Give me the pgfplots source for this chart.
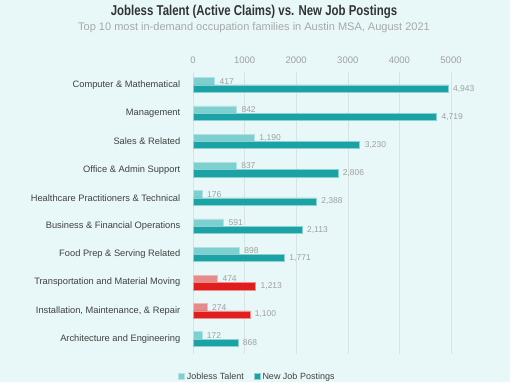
\documentclass[border=0pt]{standalone}
\usepackage{pgfplots}
\pgfplotsset{compat=1.18}
\usepackage{fontspec}
\setmainfont{Liberation Sans}
\newfontfamily\titlefont[FakeStretch=0.8]{Liberation Sans}
\definecolor{bg}{HTML}{E8F8F8}
\definecolor{titlec}{HTML}{333333}
\definecolor{subc}{HTML}{A8A8A8}
\definecolor{tickc}{HTML}{A0A0A0}
\definecolor{labc}{HTML}{404040}
\definecolor{valc}{HTML}{A0A0A0}
\definecolor{gridc}{HTML}{D8E4E4}
\definecolor{tealL}{HTML}{7ECFCF}
\definecolor{tealD}{HTML}{1BA2A4}
\definecolor{redL}{HTML}{E68A8A}
\definecolor{redD}{HTML}{E01E1E}
\begin{document}
\begin{tikzpicture}[x=1pt,y=1pt]
\fill[bg] (0,0) rectangle (510,382);
\path[use as bounding box] (0,0) rectangle (510,382);
\node[font=\titlefont\bfseries\fontsize{14.3}{16}\selectfont, text=titlec] at (254,370) {Jobless Talent (Active Claims) vs. New Job Postings};
\node[font=\fontsize{11}{13}\selectfont, text=subc] at (254,354) {Top 10 most in-demand occupation families in Austin MSA, August 2021};
\begin{axis}[
  at={(193pt,28pt)}, anchor=south west,
  width=258pt, height=282pt, scale only axis,
  xbar, bar width=7.3pt,
  xmin=0, xmax=5000, ymin=-0.53, ymax=9.46,
  ytick={0,...,9},
  yticklabels={Architecture and Engineering, {Installation, Maintenance, \& Repair}, Transportation and Material Moving, Food Prep \& Serving Related, Business \& Financial Operations, Healthcare Practitioners \& Technical, Office \& Admin Support, Sales \& Related, Management, Computer \& Mathematical},
  xtick={0,1000,...,5000},
  xticklabel pos=upper,
  scaled x ticks=false,
  axis line style={draw=none},
  major tick style={draw=none},
  xmajorgrids, grid style={gridc, line width=0.6pt},
  xticklabel style={font=\fontsize{9.5}{11}\selectfont, text=tickc, yshift=5pt, /pgf/number format/1000 sep={}, /pgf/number format/assume math mode=true},
  yticklabel style={font=\fontsize{9.3}{11}\selectfont, text=labc, xshift=-5pt},
  clip=false,
  nodes near coords={\pgfmathprintnumber[1000 sep={,},assume math mode=true]{\pgfplotspointmeta}},
  every node near coord/.append style={font=\fontsize{8.5}{10}\selectfont, text=valc, xshift=1.5pt},
  legend style={draw=none, fill=none, at={(axis description cs:0.25,-0.08)}, anchor=center, legend columns=2, font=\fontsize{9}{10}\selectfont, text=labc, /tikz/every even column/.append style={column sep=8pt}},
  legend image code/.code={\fill[#1] (0pt,-3pt) rectangle (6pt,3pt);},
]
\addplot[fill=tealL, draw=tealL!60!white, line width=0.5pt, bar shift=3.65pt] coordinates {(417,9) (842,8) (1190,7) (837,6) (176,5) (591,4) (898,3) (172,0)};
\addlegendentry{Jobless Talent}
\addplot[fill=tealD, draw=tealD!50!white, line width=0.5pt, bar shift=-3.65pt] coordinates {(4943,9) (4719,8) (3230,7) (2806,6) (2388,5) (2113,4) (1771,3) (868,0)};
\addlegendentry{New Job Postings}
\addplot[fill=redL, draw=redL!60!white, line width=0.5pt, bar shift=3.65pt, forget plot] coordinates {(474,2) (274,1)};
\addplot[fill=redD, draw=redD!50!white, line width=0.5pt, bar shift=-3.65pt, forget plot] coordinates {(1213,2) (1100,1)};
\end{axis}
\end{tikzpicture}
\end{document}
